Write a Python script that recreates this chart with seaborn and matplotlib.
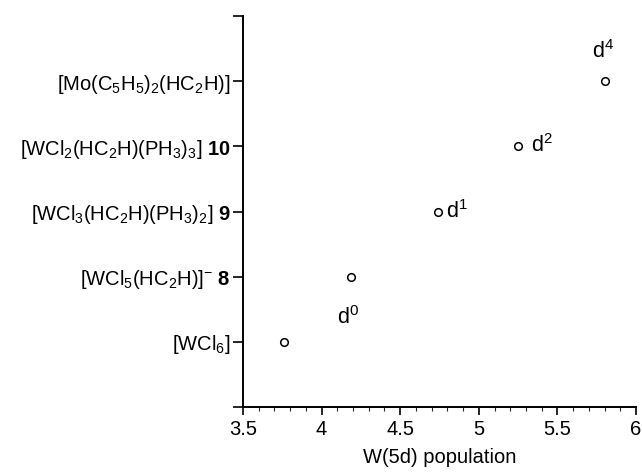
import matplotlib
matplotlib.use("Agg")
import matplotlib.pyplot as plt
import seaborn as sns
import pandas as pd
from matplotlib.ticker import MultipleLocator

# compounds, bottom to top
compounds = [
    r"[WCl$_6$]",
    r"[WCl$_5$(HC$_2$H)]$^{-}$ $\mathbf{8}$",
    r"[WCl$_3$(HC$_2$H)(PH$_3$)$_2$] $\mathbf{9}$",
    r"[WCl$_2$(HC$_2$H)(PH$_3$)$_3$] $\mathbf{10}$",
    r"[Mo(C$_5$H$_5$)$_2$(HC$_2$H)]",
]
w5d_pop = [3.76, 4.19, 4.74, 5.25, 5.80]
d_labels = ["d$^0$", "d$^1$", "d$^2$", "d$^4$"]

sns.set_theme(style="ticks")
plt.rcParams["font.family"] = ["Liberation Sans", "DejaVu Sans"]
plt.rcParams["mathtext.fontset"] = "custom"
plt.rcParams["mathtext.rm"] = "Liberation Sans"
plt.rcParams["mathtext.it"] = "Liberation Sans"
plt.rcParams["mathtext.bf"] = "Liberation Sans:bold"
plt.rcParams["text.color"] = "black"
plt.rcParams["axes.labelcolor"] = "black"

df = pd.DataFrame({"pop": w5d_pop, "pos": range(1, len(compounds) + 1)})

fig = plt.figure(figsize=(6.42, 4.73), dpi=100)
ax = fig.add_axes([0.3785, 0.1395, 0.6122, 0.8265])
sns.scatterplot(data=df, x="pop", y="pos", ax=ax, marker="o", s=30,
                facecolor="white", edgecolor="black", linewidth=1.1, zorder=3)

# d-electron count labels
fs_d = 15.5
ax.text(4.17, 1.37, d_labels[0], fontsize=fs_d, ha="center", va="center")
ax.text(4.86, 3.0, d_labels[1], fontsize=fs_d, ha="center", va="center")
ax.text(5.40, 4.02, d_labels[2], fontsize=fs_d, ha="center", va="center")
ax.text(5.79, 5.45, d_labels[3], fontsize=fs_d, ha="center", va="center")

ax.set_xlim(3.5, 6)
ax.set_ylim(0, 6)
ax.xaxis.set_minor_locator(MultipleLocator(0.1))
ax.set_xticks([3.5, 4, 4.5, 5, 5.5, 6])
ax.set_xticklabels(["3.5", "4", "4.5", "5", "5.5", "6"])
ax.set_yticks(range(0, 7))
ax.set_yticklabels([""] + compounds + [""])
ax.tick_params(axis="both", labelsize=14.5, colors="black", width=1.2, length=6)
ax.tick_params(axis="x", which="minor", length=3, width=0.8)
ax.tick_params(axis="y", length=7, pad=2)
ax.set_xlabel("W(5d) population", fontsize=14.5, labelpad=6)
ax.set_ylabel("")
for s in ["top", "right"]:
    ax.spines[s].set_visible(False)
for s in ["left", "bottom"]:
    ax.spines[s].set_linewidth(1.4)
    ax.spines[s].set_color("black")

fig.savefig("out.png", dpi=100)
